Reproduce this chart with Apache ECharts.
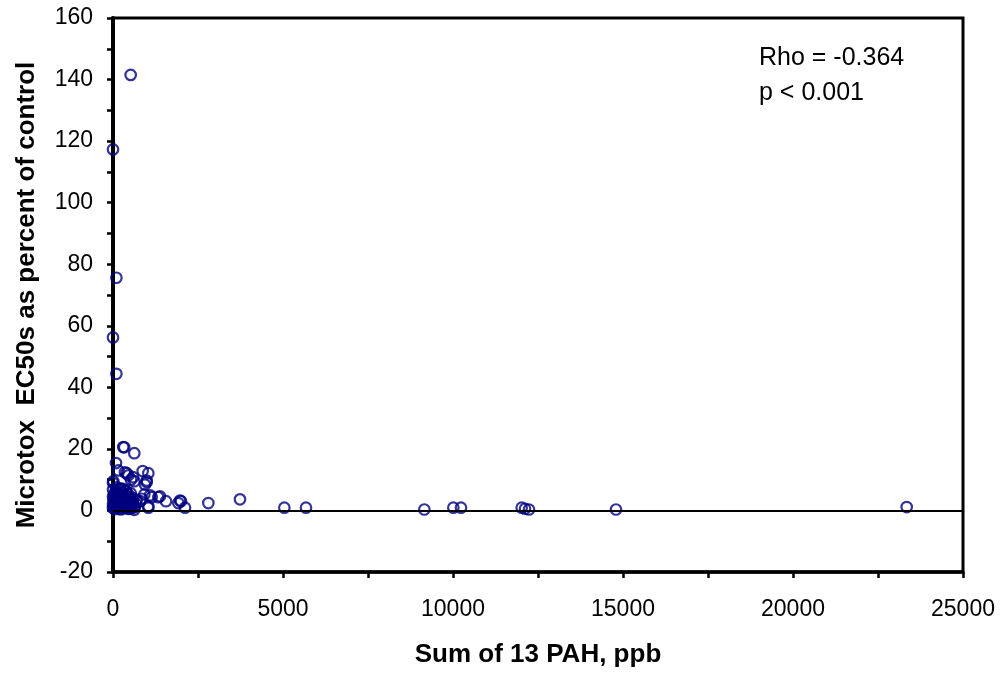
<!DOCTYPE html>
<html>
<head>
<meta charset="utf-8">
<script src="https://cdn.jsdelivr.net/npm/echarts@6/dist/echarts.min.js"></script>
<style>html,body{margin:0;padding:0;background:#fff}#c{width:1005px;height:675px}</style>
</head>
<body>
<div id="c"></div>
<script>
// Sum of 13 PAH (ppb) values
const pahX = [
  520, 0, 100, 0, 100,
  300, 330, 626, 88, 157, 873, 1039, 402, 451, 350, 590, 530, 990, 627, 941, 990, 0, 10,
  922, 1090, 1137, 1333, 1380, 1559, 843, 800, 1922, 2000, 1970, 2118, 2804, 3735, 5039, 5676,
  9157, 10010, 10235, 12020, 12118, 12235, 14794, 23344, 1039, 1040, 627,
  20, 40, 60, 80, 100, 120, 140, 160, 180, 200, 220, 240, 260, 280, 300, 320, 340, 360, 380, 400,
  420, 440, 460, 480, 500, 520, 540, 560, 580, 600, 640, 680, 700, 10, 30, 50, 70, 90, 110, 130,
  150, 170, 190, 210, 230, 250, 270, 290, 310, 330, 350, 370, 390, 410, 430, 450, 470, 490, 510, 550,
  0, 0, 0, 0, 5
];
// Microtox EC50s as percent of control
const ec50Y = [
  141.5, 117.3, 75.6, 56.2, 44.4,
  20.6, 20.5, 18.6, 15.4, 13.0, 12.8, 12.1, 12.1, 11.4, 12.4, 10.8, 10.0, 9.7, 9.5, 8.4, 9.2, 8.9, 9.5,
  5.2, 4.9, 4.3, 4.3, 4.6, 3.0, 3.8, 3.0, 2.4, 3.0, 3.2, 0.9, 2.4, 3.6, 0.9, 0.9,
  0.3, 0.9, 0.9, 0.9, 0.55, 0.3, 0.3, 1.1, 0.9, 1.4, 0.2,
  1.2, 2.5, 4.1, 6.2, 7.5, 3.3, 1.8, 5.4, 0.6, 2.9, 6.8, 4.6, 1.5, 3.7, 7.0, 2.2, 5.1, 0.9, 3.9, 6.1,
  1.3, 4.4, 2.7, 0.5, 3.2, 5.6, 1.9, 0.8, 2.6, 4.0, 1.1, 2.1, 3.4, 3.6, 5.3, 0.4, 2.0, 4.8, 1.0, 6.0,
  2.4, 3.0, 7.3, 1.6, 0.3, 3.5, 5.9, 0.7, 4.3, 1.7, 2.8, 6.5, 1.2, 3.1, 0.6, 5.2, 2.3, 1.4, 3.8, 2.0,
  0.8, 2.2, 4.5, 6.8, 1.5
];
const xTitle = 'Sum of 13 PAH, ppb';
const yTitle = 'Microtox  EC50s as percent of control';
const statLines = ['Rho = -0.364', 'p < 0.001'];

const points = pahX.map((x, i) => [x, ec50Y[i]]);
const font = 'Liberation Sans, Arial, sans-serif';

const chart = echarts.init(document.getElementById('c'), null, {renderer: 'canvas'});
chart.setOption({
  animation: false,
  backgroundColor: '#fff',
  grid: {left: 113, top: 18, right: 42, bottom: 103, show: true, borderColor: '#000', borderWidth: 3, backgroundColor: 'transparent'},
  xAxis: {
    type: 'value', min: 0, max: 25000, interval: 5000,
    name: xTitle, nameLocation: 'middle', nameGap: 70,
    nameTextStyle: {fontFamily: font, fontSize: 26, fontWeight: 'bold', color: '#000'},
    axisLine: {show: true, onZero: false, lineStyle: {color: '#000', width: 3.5}},
    axisTick: {show: true, inside: false, length: 6, lineStyle: {color: '#000', width: 2.5}},
    minorTick: {show: true, splitNumber: 2, length: 6, lineStyle: {color: '#000', width: 2.5}},
    axisLabel: {fontFamily: font, fontSize: 23, color: '#000', margin: 26, formatter: v => String(v)},
    splitLine: {show: false}
  },
  yAxis: {
    type: 'value', min: -20, max: 160, interval: 20,
    name: yTitle, nameLocation: 'middle', nameGap: 73,
    nameTextStyle: {fontFamily: font, fontSize: 26, fontWeight: 'bold', color: '#000'},
    axisLine: {show: true, onZero: false, lineStyle: {color: '#000', width: 4}},
    axisTick: {show: true, inside: false, length: 6, lineStyle: {color: '#000', width: 2.5}},
    minorTick: {show: true, splitNumber: 2, length: 6, lineStyle: {color: '#000', width: 2.5}},
    axisLabel: {fontFamily: font, fontSize: 23, color: '#000', margin: 20, formatter: v => String(v)},
    splitLine: {show: false}
  },
  series: [{
    type: 'scatter',
    data: points,
    symbol: 'circle',
    symbolSize: 10.5,
    itemStyle: {color: 'rgba(255,255,255,0)', borderColor: '#000080', borderWidth: 2.2},
    markLine: {
      silent: true, symbol: 'none', label: {show: false},
      lineStyle: {color: '#000', width: 2, type: 'solid'},
      data: [{yAxis: 0}]
    }
  }],
  graphic: [{
    type: 'text', left: 759, top: 41,
    style: {text: statLines.join('\n'), fontFamily: font, fontSize: 25, fill: '#000', lineHeight: 35}
  }]
});
</script>
</body>
</html>
